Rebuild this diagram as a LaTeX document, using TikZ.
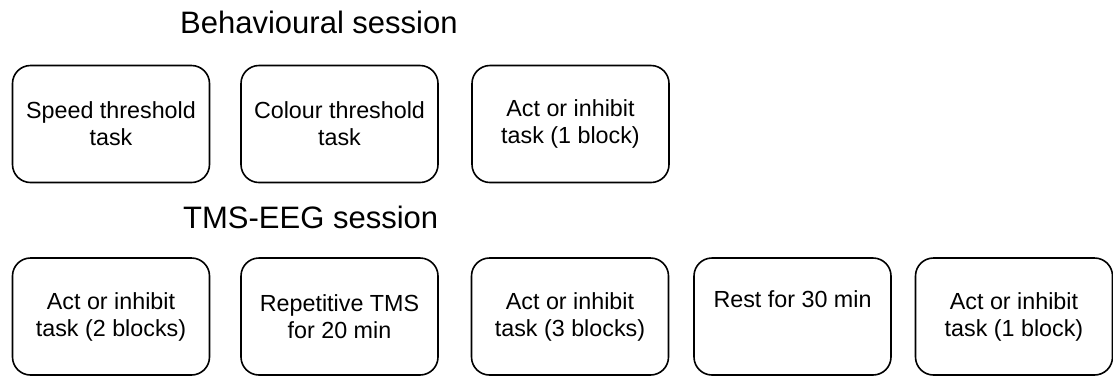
\documentclass[tikz,border=0pt]{standalone}
\usepackage{fontspec}
\setmainfont{Liberation Sans}
\usetikzlibrary{positioning}

\begin{document}
\begin{tikzpicture}[x=1pt, y=-1pt,
	taskbox/.style={draw, line width=1.6pt, rounded corners=18pt, minimum width=197pt, minimum height=117pt, align=center, inner sep=0pt, font=\fontsize{23.3}{27}\selectfont},
	sessiontitle/.style={anchor=base west, inner sep=0pt, font=\fontsize{31}{36}\selectfont}]
	\useasboundingbox (0,0) rectangle (1113,376);

	% Behavioural session
	\node[sessiontitle] (behtitle) at (180,33) {Behavioural session};
	\node[taskbox] (beh1) at (111,124) {Speed threshold\\task};
	\node[taskbox] (beh2) at (339.5,124) {Colour threshold\\task};
	\node[taskbox] (beh3) at (570.5,124) {Act or inhibit\\task (1 block)};

	% TMS-EEG session
	\node[sessiontitle] (tmstitle) at (183,228) {TMS-EEG session};
	\node[taskbox] (tms1) at (111,316.5) {Act or inhibit\\task (2 blocks)};
	\node[taskbox] (tms2) at (339.5,316.5) {Repetitive TMS\\for 20 min};
	\node[taskbox] (tms3) at (570,316.5) {Act or inhibit\\task (3 blocks)};
	\node[taskbox] (tms4) at (792.5,316.5) {Rest for 30 min\\\strut};
	\node[taskbox] (tms5) at (1014,316.5) {Act or inhibit\\task (1 block)};
\end{tikzpicture}
\end{document}
